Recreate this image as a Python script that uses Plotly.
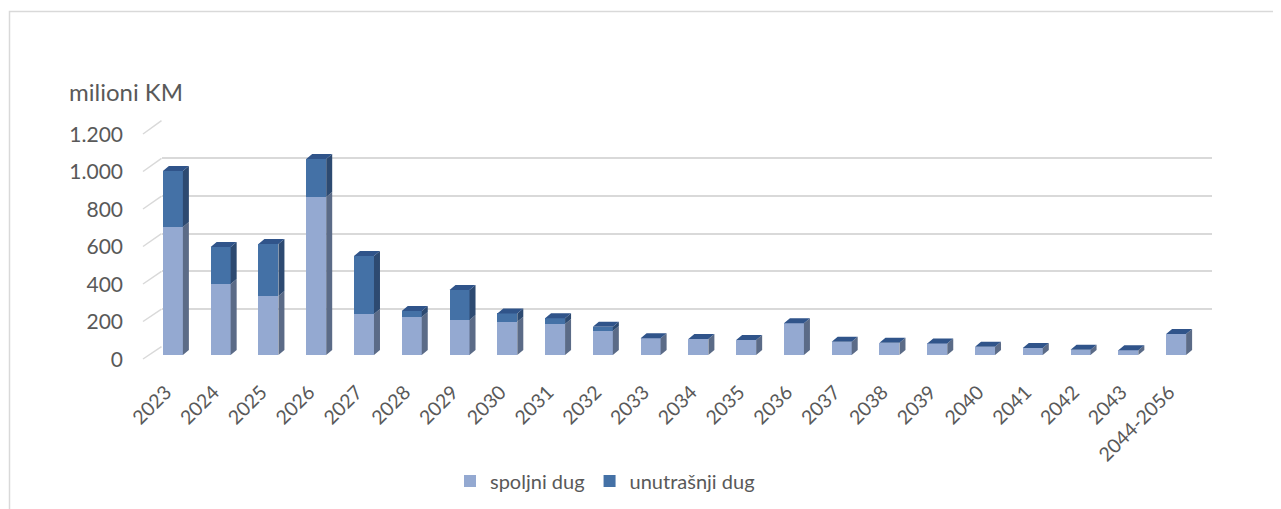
import plotly.graph_objects as go

categories = ["2023", "2024", "2025", "2026", "2027", "2028", "2029", "2030", "2031", "2032",
              "2033", "2034", "2035", "2036", "2037", "2038", "2039", "2040", "2041", "2042",
              "2043", "2044-2056"]
spoljni = [683, 379, 315, 843, 219, 203, 187, 178, 165, 128, 89, 85, 80, 169, 71, 66, 62, 44, 37, 28, 25, 112]
unutrasnji = [298, 197, 277, 202, 309, 32, 160, 44, 31, 23, 0, 0, 0, 0, 0, 0, 0, 0, 0, 0, 0, 0]
y_ticks = [0, 200, 400, 600, 800, 1000, 1200]
y_tick_labels = ["0", "200", "400", "600", "800", "1.000", "1.200"]
series_names = ["spoljni dug", "unutrašnji dug"]

W, H = 1281, 509
OFF = 8  # page body margin
FONT = "Lato"
TXT = "#595959"
GRID = "#d9d9d9"
C_LIGHT, C_LIGHT_SIDE = "#94a9d1", "#5b6b87"
C_DARK, C_DARK_SIDE, C_DARK_TOP = "#4471a6", "#2d4a71", "#30548a"

def px(x):
    return (x - OFF) / W

def py(y):
    return 1 - (y - OFF) / H

# front plane (bars) pixel geometry
FX0, FX1 = 149, 1200
FY0, FY1 = 355, 130          # value 0 and 1200
# back wall pixel geometry
BX0, BX1 = 161.5, 1211.5
BY0, BY1 = 346.7, 120.7
YMAX = 1200
n = len(categories)
unit_x = (FX1 - FX0) / n
unit_y = (FY0 - FY1) / YMAX
hw = 10 / unit_x             # half front width
dx = 6 / unit_x              # depth offset
dy = 5 / unit_y

fig = go.Figure()

# invisible trace for back wall subplot
fig.add_trace(go.Scatter(x=[0], y=[0], xaxis="x", yaxis="y", mode="markers",
                         marker=dict(opacity=0), showlegend=False, hoverinfo="skip"))

idx = list(range(n))
fig.add_trace(go.Bar(x=idx, y=spoljni, name=series_names[0], xaxis="x2", yaxis="y2",
                     width=2 * hw, marker=dict(color=C_LIGHT, line=dict(width=0)),
                     hoverinfo="skip"))
fig.add_trace(go.Bar(x=idx, y=unutrasnji, name=series_names[1], xaxis="x2", yaxis="y2",
                     width=2 * hw, marker=dict(color=C_DARK, line=dict(width=0)),
                     hoverinfo="skip"))

def poly_trace(xs, ys, color):
    return go.Scatter(x=xs, y=ys, xaxis="x2", yaxis="y2", mode="lines", fill="toself",
                      fillcolor=color, line=dict(width=0, color=color),
                      showlegend=False, hoverinfo="skip")

# side and top faces
lx, ly, dxs, dys, tx, ty = [], [], [], [], [], []
for i in idx:
    s, u = spoljni[i], unutrasnji[i]
    r = i + hw
    lx += [r, r + dx, r + dx, r, None]
    ly += [0, dy, s + dy, s, None]
    if u > 0:
        dxs += [r, r + dx, r + dx, r, None]
        dys += [s, s + dy, s + u + dy, s + u, None]
    t = s + u
    tx += [i - hw, r, r + dx, i - hw + dx, None]
    ty += [t, t, t + dy, t + dy, None]
fig.add_trace(poly_trace(lx, ly, C_LIGHT_SIDE))
fig.add_trace(poly_trace(dxs, dys, C_DARK_SIDE))
fig.add_trace(poly_trace(tx, ty, C_DARK_TOP))

# invisible traces for label-only axes
fig.add_trace(go.Scatter(x=[0], y=[0], xaxis="x3", yaxis="y2", mode="markers",
                         marker=dict(opacity=0), showlegend=False, hoverinfo="skip"))
fig.add_trace(go.Scatter(x=[0], y=[0], xaxis="x2", yaxis="y3", mode="markers",
                         marker=dict(opacity=0), showlegend=False, hoverinfo="skip"))

shapes = []
# frame
shapes.append(dict(type="rect", xref="paper", yref="paper", x0=px(9.5), x1=px(1300),
                   y0=py(530), y1=py(11.5), line=dict(color=GRID, width=1.5)))
# slanted side-wall lines
for v in y_ticks:
    yf = 359 - v * unit_y
    yb = BY0 - v * (BY0 - BY1) / YMAX
    shapes.append(dict(type="line", xref="paper", yref="paper", x0=px(143), x1=px(BX0),
                       y0=py(yf), y1=py(yb), line=dict(color=GRID, width=1.5)))

LAB_DX = -7   # label plane shift
LAB_DY = 4.5

fig.update_layout(
    width=W, height=H,
    margin=dict(l=0, r=0, t=0, b=0, pad=0, autoexpand=False),
    paper_bgcolor="white", plot_bgcolor="rgba(0,0,0,0)",
    barmode="stack",
    font=dict(family=FONT, size=20, color=TXT),
    xaxis=dict(domain=[px(BX0), px(BX1)], range=[0, 1], showgrid=False, zeroline=False,
               showticklabels=False, showline=False, fixedrange=True, automargin=False),
    yaxis=dict(domain=[py(BY0), py(BY1)], range=[0, YMAX], tickvals=y_ticks,
               showgrid=True, gridcolor=GRID, gridwidth=2, zeroline=False,
               showticklabels=False, showline=False, fixedrange=True, automargin=False),
    xaxis2=dict(domain=[px(FX0), px(FX1)], range=[-0.5, n - 0.5], anchor="y2",
                showticklabels=False, showgrid=False, zeroline=False, showline=False,
                ticks="", fixedrange=True, automargin=False),
    yaxis2=dict(domain=[py(FY0), py(FY1)], range=[0, YMAX], anchor="x2",
                showticklabels=False, showgrid=False, zeroline=False, showline=False,
                ticks="", fixedrange=True, automargin=False),
    xaxis3=dict(domain=[px(FX0 + LAB_DX), px(FX1 + LAB_DX)], range=[-0.5, n - 0.5],
                anchor="y2", tickvals=idx, ticktext=categories, tickangle=-45,
                showgrid=False, zeroline=False, showline=False, ticks="",
                ticklabelstandoff=21, tickfont=dict(size=19.5, color=TXT),
                fixedrange=True, automargin=False),
    yaxis3=dict(domain=[py(FY0 + LAB_DY), py(FY1 + LAB_DY)], range=[0, YMAX], anchor="x2",
                tickvals=y_ticks, ticktext=y_tick_labels, showgrid=False, zeroline=False,
                showline=False, ticks="", ticklabelstandoff=25,
                tickfont=dict(size=21, color=TXT), fixedrange=True, automargin=False),
    legend=dict(orientation="h", x=px(605), xanchor="center", y=py(481), yanchor="middle",
                font=dict(size=20, color=TXT), itemwidth=30, traceorder="normal",
                bgcolor="rgba(0,0,0,0)"),
    shapes=shapes,
    annotations=[dict(text="milioni KM", xref="paper", yref="paper", x=px(67), y=py(92),
                      xanchor="left", yanchor="middle", showarrow=False,
                      font=dict(size=24, color=TXT, family=FONT))],
    showlegend=True,
)

fig.write_html("out.html")
